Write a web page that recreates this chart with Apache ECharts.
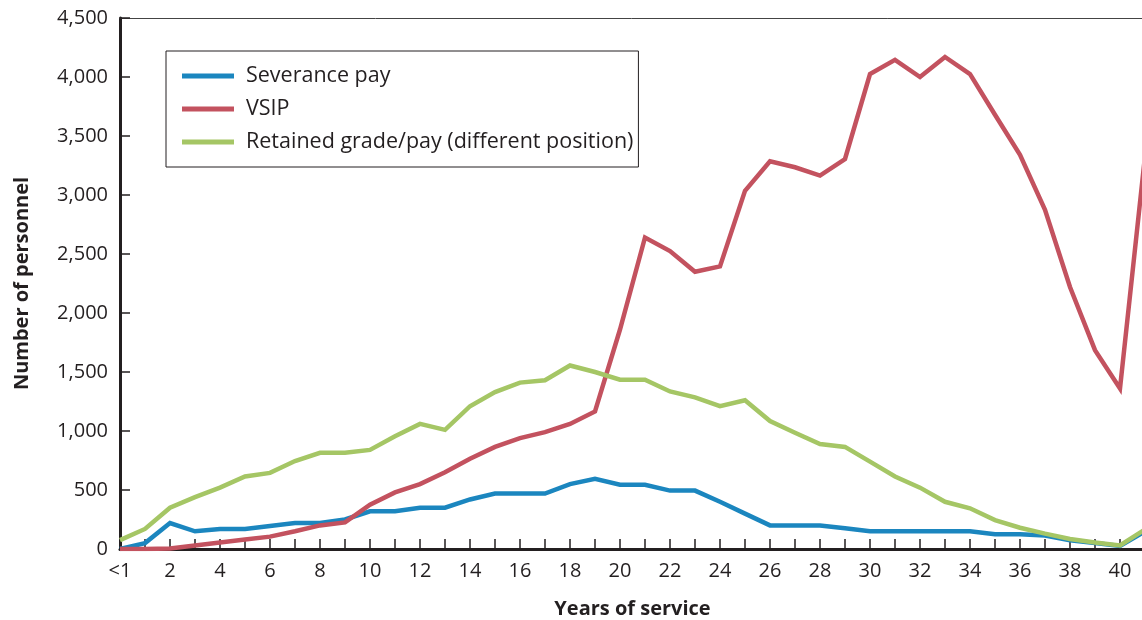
<!DOCTYPE html>
<html>
<head>
<meta charset="utf-8">
<script src="https://cdn.jsdelivr.net/npm/echarts@6/dist/echarts.min.js"></script>
<style>
  html, body { margin: 0; padding: 0; background: #fff; }
  #chart { width: 1142px; height: 620px; }
</style>
</head>
<body>
<div id="chart"></div>
<script>
// years of service (<1 .. 41), 41 sits just past the right edge
const years = ['<1', '1', '2', '3', '4', '5', '6', '7', '8', '9', '10',
  '11', '12', '13', '14', '15', '16', '17', '18', '19', '20',
  '21', '22', '23', '24', '25', '26', '27', '28', '29', '30',
  '31', '32', '33', '34', '35', '36', '37', '38', '39', '40', '41']

const severance = [0, 50, 220, 150, 170, 170, 195, 220, 220, 250, 320,
  320, 350, 350, 420, 470, 470, 470, 550, 595, 545,
  545, 495, 495, 400, 300, 200, 200, 200, 175, 150,
  150, 150, 150, 150, 125, 125, 115, 75, 50, 25, 150]

const vsip = [0, 0, 5, 30, 55, 80, 105, 150, 200, 225, 375,
  480, 550, 650, 765, 865, 940, 990, 1060, 1165, 1860,
  2640, 2525, 2350, 2395, 3035, 3285, 3235, 3165, 3305, 4025,
  4145, 4000, 4170, 4025, 3680, 3340, 2875, 2220, 1685, 1360, 3330]

const retained = [75, 170, 350, 440, 520, 615, 645, 745, 815, 815, 840,
  955, 1060, 1010, 1210, 1330, 1410, 1430, 1555, 1500, 1435,
  1435, 1335, 1285, 1210, 1260, 1085, 985, 890, 865, 740,
  615, 520, 400, 345, 245, 180, 130, 85, 55, 30, 165]

const seriesNames = ['Severance pay', 'VSIP', 'Retained grade/pay (different position)']
const colors = ['#1b86bf', '#c3525f', '#a5c665']

const font = "'Open Sans', 'Noto Sans', sans-serif"
const ink = '#231f20'

const chart = echarts.init(document.getElementById('chart'))

const option = {
  animation: false,
  textStyle: { fontFamily: font, color: ink },
  grid: {
    left: 120,
    right: -3,
    top: 18,
    bottom: 71,
    containLabel: false,
    outerBoundsMode: 'none',
  },
  legend: {
    orient: 'vertical',
    left: 166,
    top: 51,
    data: seriesNames,
    icon: 'rect',
    itemWidth: 52,
    itemHeight: 5,
    itemGap: 11,
    padding: [14, 5, 14, 16],
    borderColor: ink,
    borderWidth: 1,
    textStyle: {
      fontFamily: font,
      fontSize: 21.5,
      color: ink,
      lineHeight: 22,
      padding: [0, 0, 0, 7],
    },
  },
  xAxis: [
    {
      type: 'category',
      data: years,
      boundaryGap: false,
      name: 'Years of service',
      nameLocation: 'middle',
      nameGap: 50,
      nameTextStyle: { fontFamily: font, fontSize: 20, fontWeight: 'bold', color: ink },
      axisLine: { lineStyle: { color: ink, width: 3 } },
      axisTick: { inside: true, length: 10, interval: 0, lineStyle: { color: ink, width: 1.5 } },
      axisLabel: { interval: 1, fontSize: 20, color: ink, margin: 12, fontFamily: font },
      splitLine: { show: false },
    },
    {
      type: 'category',
      data: years,
      boundaryGap: false,
      position: 'top',
      axisLine: { lineStyle: { color: '#444', width: 1 } },
      axisTick: { show: false },
      axisLabel: { show: false },
      splitLine: { show: false },
    },
  ],
  yAxis: {
    type: 'value',
    min: 0,
    max: 4500,
    interval: 500,
    name: 'Number of personnel',
    nameLocation: 'middle',
    nameGap: 88,
    nameTextStyle: { fontFamily: font, fontSize: 20, fontWeight: 'bold', color: ink },
    axisLine: { show: true, lineStyle: { color: ink, width: 3 } },
    axisTick: { show: true, inside: true, length: 10, lineStyle: { color: ink, width: 1.5 } },
    axisLabel: {
      fontSize: 20,
      color: ink,
      margin: 12,
      fontFamily: font,
      formatter: v => v.toLocaleString('en-US'),
    },
    splitLine: { show: false },
  },
  series: [severance, vsip, retained].map((values, i) => ({
    name: seriesNames[i],
    type: 'line',
    data: values,
    symbol: 'none',
    color: colors[i],
    lineStyle: { width: 4.5, color: colors[i], join: 'miter' },
    z: 2 + i,
  })),
}

chart.setOption(option)
</script>
</body>
</html>
